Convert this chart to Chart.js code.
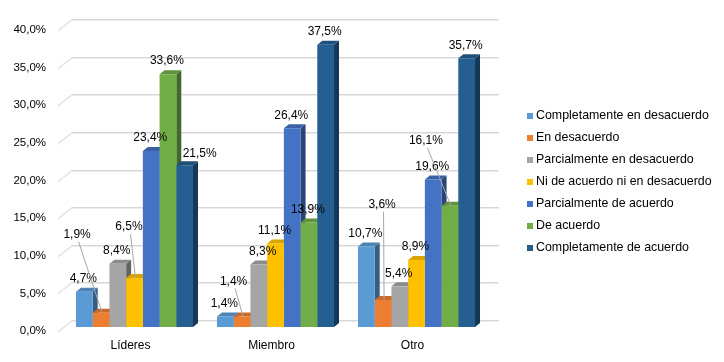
<!DOCTYPE html>
<html><head><meta charset="utf-8">
<script src="https://cdn.jsdelivr.net/npm/chart.js@4/dist/chart.umd.min.js"></script>
<style>html,body{margin:0;padding:0;background:#fff}#wrap{width:724px;height:362px}</style>
</head><body><div id="wrap"><canvas id="c" width="724" height="362"></canvas></div>
<script>
// ---- data ----
const categories = ['Líderes', 'Miembro', 'Otro'];
const seriesNames = ['Completamente en desacuerdo', 'En desacuerdo', 'Parcialmente en desacuerdo',
  'Ni de acuerdo ni en desacuerdo', 'Parcialmente de acuerdo', 'De acuerdo', 'Completamente de acuerdo'];
const completamenteEnDesacuerdo = [4.7, 1.4, 10.7];
const enDesacuerdo = [1.9, 1.4, 3.6];
const parcialmenteEnDesacuerdo = [8.4, 8.3, 5.4];
const niDeAcuerdoNiEnDesacuerdo = [6.5, 11.1, 8.9];
const parcialmenteDeAcuerdo = [23.4, 26.4, 19.6];
const deAcuerdo = [33.6, 13.9, 16.1];
const completamenteDeAcuerdo = [21.5, 37.5, 35.7];
const yTicks = [0, 5, 10, 15, 20, 25, 30, 35, 40];
const yTickLabels = ['0,0%', '5,0%', '10,0%', '15,0%', '20,0%', '25,0%', '30,0%', '35,0%', '40,0%'];

// ---- styles ----
const colors = ['#5B9BD5', '#ED7D31', '#A5A5A5', '#FFC000', '#4472C4', '#70AD47', '#255E91'];
const DX = 5, DY = -4;
// label displacement (dataset-category): dx, dy, leader line
const labelShift = {
  '1-0': {dx: -23, dy: -65, leader: true},
  '3-0': {dx: -4.5, dy: -38, leader: true},
  '6-0': {dx: 16, dy: 1, leader: false},
  '1-1': {dx: -7.5, dy: -22, leader: true},
  '2-1': {dx: 5, dy: 0, leader: false},
  '1-2': {dx: 0, dy: -82, leader: true},
  '5-2': {dx: -23, dy: -52, leader: true}
};
const legendStyle = {boxX: 527, box: 6, textX: 536, firstY: 115.7, step: 22, font: '12.4px'};
const FONT = '"Liberation Sans", Arial, sans-serif';
Chart.defaults.font.family = FONT;
Chart.defaults.color = '#000';

const seriesValues = [completamenteEnDesacuerdo, enDesacuerdo, parcialmenteEnDesacuerdo,
  niDeAcuerdoNiEnDesacuerdo, parcialmenteDeAcuerdo, deAcuerdo, completamenteDeAcuerdo];

function shade(hex, f) {
  const n = parseInt(hex.slice(1), 16);
  const r = Math.round(((n >> 16) & 255) * f), g = Math.round(((n >> 8) & 255) * f), b = Math.round((n & 255) * f);
  return `rgb(${r},${g},${b})`;
}
function fmt(v) { return v.toFixed(1).replace('.', ',') + '%'; }

const wallPlugin = {
  id: 'wall3d',
  beforeDatasetsDraw(chart) {
    const {ctx, chartArea: a, scales: {y}} = chart;
    ctx.save();
    yTicks.forEach(v => {
      const py = Math.round(y.getPixelForValue(v));
      ctx.lineWidth = 1;
      ctx.strokeStyle = '#d6d6d6';
      ctx.beginPath(); ctx.moveTo(a.left - 6, py + 4.5); ctx.lineTo(a.left + 8, py - 6.5); ctx.lineTo(a.right + 12, py - 6.5); ctx.stroke();
      ctx.strokeStyle = '#ededed';
      ctx.beginPath(); ctx.moveTo(a.left - 6, py + 5.5); ctx.lineTo(a.left + 8, py - 5.5); ctx.lineTo(a.right + 12, py - 5.5); ctx.stroke();
    });
    const n = chart.data.datasets.length;
    for (let c = 0; c < categories.length; c++) {
      for (let i = 0; i < n; i++) {
        const el = chart.getDatasetMeta(i).data[c];
        const x = el.x, top = el.y, base = el.base, w = el.width;
        const l = x - w / 2, r = x + w / 2;
        ctx.fillStyle = shade(colors[i], 0.6);
        ctx.beginPath(); ctx.moveTo(r, top); ctx.lineTo(r + DX, top + DY); ctx.lineTo(r + DX, base + DY); ctx.lineTo(r, base); ctx.closePath(); ctx.fill();
        ctx.fillStyle = shade(colors[i], 0.85);
        ctx.beginPath(); ctx.moveTo(l, top); ctx.lineTo(l + DX, top + DY); ctx.lineTo(r + DX, top + DY); ctx.lineTo(r, top); ctx.closePath(); ctx.fill();
      }
    }
    ctx.restore();
  }
};

const labelPlugin = {
  id: 'dataLabels',
  afterDatasetsDraw(chart) {
    const {ctx} = chart;
    ctx.save();
    ctx.font = '12px ' + FONT;
    ctx.textAlign = 'center'; ctx.textBaseline = 'middle';
    chart.data.datasets.forEach((ds, i) => {
      chart.getDatasetMeta(i).data.forEach((el, c) => {
        let lx = el.x - 1, ly = el.y - 13;
        const s = labelShift[i + '-' + c];
        if (s) {
          lx += s.dx; ly += s.dy;
          if (s.leader) {
            ctx.strokeStyle = '#a6a6a6'; ctx.lineWidth = 1;
            ctx.beginPath(); ctx.moveTo(lx + 1.5, ly + 7); ctx.lineTo(el.x + 1, el.y); ctx.stroke();
          }
        }
        ctx.fillStyle = '#000';
        ctx.fillText(fmt(ds.data[c]), lx, ly);
      });
    });
    ctx.restore();
  }
};

const legendPlugin = {
  id: 'sideLegend',
  afterDraw(chart) {
    const {ctx} = chart;
    const L = legendStyle;
    ctx.save();
    ctx.font = L.font + ' ' + FONT;
    ctx.textAlign = 'left'; ctx.textBaseline = 'middle';
    chart.data.datasets.forEach((ds, i) => {
      const cy = L.firstY + i * L.step;
      ctx.fillStyle = ds.backgroundColor;
      ctx.fillRect(L.boxX, Math.round(cy - L.box / 2), L.box, L.box);
      ctx.fillStyle = '#000';
      ctx.fillText(ds.label, L.textX, cy);
    });
    ctx.restore();
  }
};

new Chart(document.getElementById('c'), {
  type: 'bar',
  data: {
    labels: categories,
    datasets: seriesNames.map((name, i) => ({
      label: name,
      data: seriesValues[i],
      backgroundColor: colors[i],
      borderWidth: 0,
      categoryPercentage: 0.83,
      barPercentage: 1.0
    }))
  },
  options: {
    responsive: false,
    animation: false,
    devicePixelRatio: 1,
    layout: {padding: 0},
    plugins: {
      legend: {display: false},
      tooltip: {enabled: false}
    },
    scales: {
      x: {
        type: 'category', position: 'bottom',
        grid: {display: false, drawTicks: false}, border: {display: false},
        ticks: {padding: 11, labelOffset: -4, color: '#000', font: {size: 12}},
        afterFit(s) { s.height = 35; }
      },
      xTop: {
        type: 'category', position: 'top', axis: 'x', display: true,
        grid: {display: false, drawTicks: false}, border: {display: false},
        ticks: {display: false},
        afterFit(s) { s.height = 26; }
      },
      y: {
        type: 'linear', position: 'left', min: 0, max: 40,
        grid: {display: false, drawTicks: false}, border: {display: false},
        afterBuildTicks(s) { s.ticks = yTicks.map(v => ({value: v})); },
        ticks: {padding: 18, labelOffset: 4, color: '#000', font: {size: 11.5},
          callback: (v) => yTickLabels[yTicks.indexOf(v)]},
        afterFit(s) { s.width = 64; }
      },
      yRight: {
        type: 'linear', position: 'right', axis: 'y', display: true,
        grid: {display: false, drawTicks: false}, border: {display: false},
        ticks: {display: false},
        afterFit(s) { s.width = 237; }
      }
    }
  },
  plugins: [wallPlugin, labelPlugin, legendPlugin]
});
</script>
</body></html>
